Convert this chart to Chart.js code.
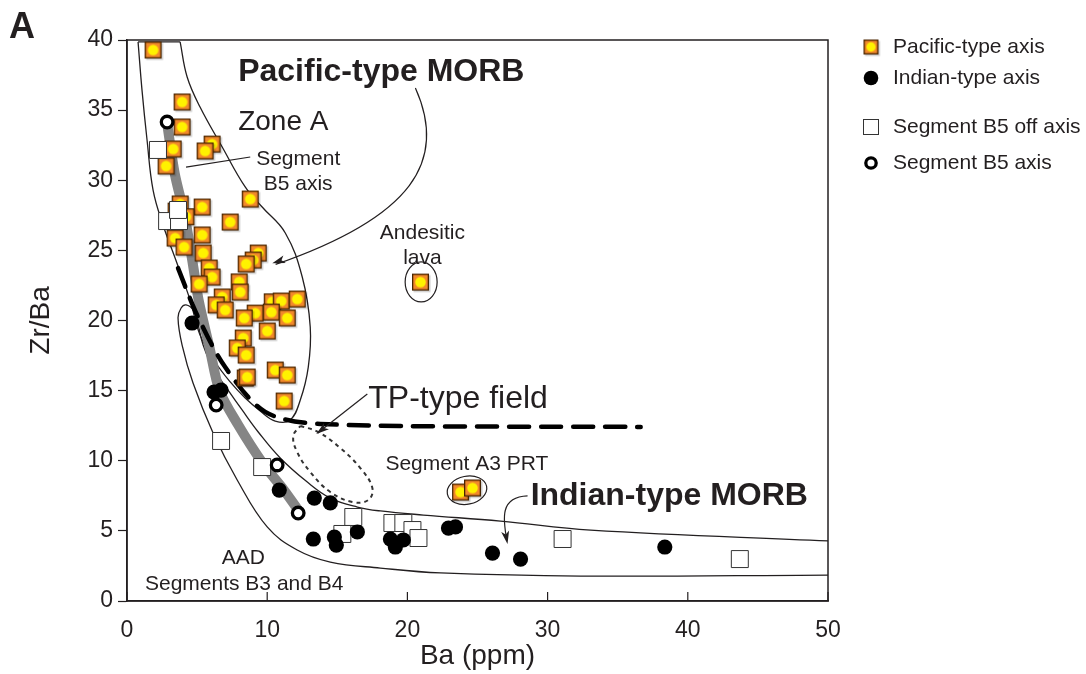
<!DOCTYPE html>
<html>
<head>
<meta charset="utf-8">
<title>Zr/Ba vs Ba</title>
<script src="https://cdn.jsdelivr.net/npm/chart.js@4.4.1/dist/chart.umd.min.js"></script>
<style>
  html, body { margin: 0; padding: 0; background: #fff; }
  #wrap { width: 1086px; height: 674px; position: relative; }
</style>
</head>
<body>
<div id="wrap"><canvas id="chart" width="1086" height="674"></canvas></div>
<script>
// samples: [Ba (ppm), Zr/Ba]
const pacificAxis = [
  [1.86, 39.29], [3.93, 35.58], [3.93, 33.80], [6.07, 32.58], [5.57, 32.09], [3.29, 32.23],
  [2.79, 31.02], [8.79, 28.66], [3.79, 28.31], [5.36, 28.09], [3.5, 27.8], [4.2, 27.4],
  [7.36, 27.02], [5.36, 26.10], [3.43, 25.88], [4.07, 25.24], [5.43, 24.81], [9.36, 24.81],
  [9.0, 24.31], [8.5, 24.03], [5.86, 23.74], [6.07, 23.10], [8.0, 22.75], [5.14, 22.60],
  [8.07, 22.03], [6.79, 21.68], [6.36, 21.11], [7.0, 20.75], [10.36, 21.33], [11.0, 21.39],
  [12.14, 21.53], [9.14, 20.53], [10.29, 20.60], [8.36, 20.18], [11.43, 20.18], [10.0, 19.25],
  [8.29, 18.75], [7.86, 18.04], [8.5, 17.54], [8.43, 15.90], [8.57, 15.97], [10.57, 16.47],
  [11.43, 16.11], [11.21, 14.26],
  [20.93, 22.74],               // andesitic lava
  [23.79, 7.77], [24.64, 8.06]  // segment A3 PRT
];
const indianAxis = [
  [4.64, 19.82], [6.21, 14.90], [6.71, 15.04], [10.86, 7.91], [13.36, 7.34], [14.5, 6.99],
  [13.29, 4.42], [14.79, 4.56], [14.93, 3.99], [16.43, 4.92], [18.79, 4.42], [19.14, 3.85],
  [19.71, 4.35], [22.93, 5.20], [23.43, 5.28], [26.07, 3.42], [28.07, 2.99], [38.36, 3.85]
];
const b5OffAxis = [
  [2.21, 32.16], [2.86, 27.09], [3.71, 27.09], [3.64, 27.88], [6.71, 11.41], [9.64, 9.55],
  [16.14, 5.99], [15.36, 4.78], [18.93, 5.56], [19.71, 5.56], [20.36, 5.06], [20.79, 4.49],
  [31.07, 4.42], [43.71, 2.99]
];
const b5Axis = [[2.86, 34.15], [6.36, 13.97], [10.71, 9.70], [12.21, 6.27]];

// trend of the segment B5 axis samples
const b5Trend = [
  [2.9, 33.8], [3.4, 30.5], [4.1, 27.5], [4.7, 24.0], [5.1, 21.5], [5.9, 18.0],
  [6.6, 15.0], [7.9, 12.6], [9.7, 9.8], [11.2, 7.9], [12.2, 6.5]
];
// field outlines (open ends meet the frame or a straight edge)
const zoneA = [
  [3.79, 39.86], [4.29, 37.36], [5.21, 35.22], [6.79, 32.37], [8.43, 29.52],
  [9.64, 28.09], [11.29, 26.24], [12.5, 23.10], [13.07, 19.54], [12.93, 16.68], [12.36, 14.33],
  [11.64, 12.91], [10.57, 12.83], [9.5, 13.55], [8.43, 14.47], [7.36, 15.62], [6.29, 17.04],
  [5.21, 18.97], [4.5, 21.46], [3.43, 24.46], [2.57, 26.81], [1.86, 29.30], [1.43, 32.87],
  [1.07, 36.43], [0.79, 39.86]
];
const zoneATop = [[0.79, 39.86], [3.79, 39.86]];
const indianField = [
  [50, 4.28], [33.07, 5.06], [26.64, 5.70], [21.14, 6.13], [18.07, 6.42], [16.43, 6.70],
  [14.5, 7.34], [12.86, 8.48], [10.93, 10.20], [9.36, 12.05], [8.21, 13.62], [7.21, 15.04],
  [6.14, 16.61], [5.43, 18.25], [5.07, 19.68], [4.71, 20.75], [4.21, 21.11], [3.86, 20.89],
  [3.64, 20.18], [3.93, 18.25], [4.71, 15.54], [6.14, 11.98], [7.86, 8.63], [10.0, 5.28],
  [12.14, 3.64], [14.5, 2.78], [18.07, 2.35], [22.36, 2.0], [32.36, 1.78], [50, 1.85]
];
const tpBoundary = [
  [3.64, 23.74], [5.0, 20.39], [7.0, 16.68], [9.86, 13.48], [13.79, 12.62], [36.64, 12.41]
];
const tpField = [
  [12.36, 12.48], [13.64, 12.05], [15.21, 10.91], [16.64, 9.48], [17.5, 8.06], [17.21, 7.2],
  [16.07, 7.06], [14.5, 7.77], [13.07, 9.2], [12.14, 10.62], [11.86, 11.76], [12.36, 12.48]
];

const xTicks = [0, 10, 20, 30, 40, 50];
const yTicks = [0, 5, 10, 15, 20, 25, 30, 35, 40];
const legendLabels = ['Pacific-type axis', 'Indian-type axis', 'Segment B5 off axis', 'Segment B5 axis'];

const FONT = "'Liberation Sans', Arial, Helvetica, sans-serif";
const INK = '#231f20';

const pts = arr => arr.map(([x, y]) => ({ x, y }));

// orange square with yellow dot
function pacificMarker(side) {
  const pad = 3;
  const c = document.createElement('canvas');
  c.width = c.height = side + pad * 2;
  const g = c.getContext('2d');
  g.fillStyle = 'rgba(0,0,0,0.2)';
  g.fillRect(pad + 1.5, pad + 1.5, side, side);
  g.fillStyle = '#f2892b';
  g.fillRect(pad, pad, side, side);
  g.strokeStyle = '#4a2500';
  g.lineWidth = 1.3;
  g.strokeRect(pad + 0.65, pad + 0.65, side - 1.3, side - 1.3);
  g.fillStyle = '#fff200';
  g.beginPath();
  g.arc(pad + side / 2, pad + side / 2, side * 0.31, 0, Math.PI * 2);
  g.fill();
  return c;
}
const pacificImg = pacificMarker(17);
const pacificLegendImg = pacificMarker(15);

function outline(data, extra) {
  return Object.assign({
    type: 'scatter', data: pts(data), showLine: true, pointRadius: 0,
    borderColor: INK, borderWidth: 1.3, tension: 0.4, fill: false
  }, extra);
}

const datasets = [
  outline(zoneA, { order: 20 }),
  outline(zoneATop, { order: 20, tension: 0 }),
  outline(indianField, { order: 21 }),
  outline(tpField, { order: 22, borderDash: [4, 4], borderWidth: 2, borderColor: '#333' }),
  outline(b5Trend, { order: 15, borderColor: '#858585', borderWidth: 10, tension: 0.3, borderCapStyle: 'butt' }),
  outline(tpBoundary, { order: 12, borderWidth: 4.5, borderDash: [20, 12], borderCapStyle: 'round', tension: 0.3, borderColor: '#000' }),
  { label: legendLabels[0], data: pts(pacificAxis), pointStyle: pacificImg, pointRadius: 8, order: 8 },
  { label: legendLabels[2], data: pts(b5OffAxis), pointStyle: 'rect', pointRadius: 12,
    backgroundColor: '#fff', borderColor: '#333', borderWidth: 1, order: 6 },
  { label: legendLabels[1], data: pts(indianAxis), pointStyle: 'circle', pointRadius: 7.6,
    backgroundColor: '#000', borderColor: '#000', borderWidth: 0, order: 4 },
  { label: legendLabels[3], data: pts(b5Axis), pointStyle: 'circle', pointRadius: 5.8,
    backgroundColor: '#fff', borderColor: '#000', borderWidth: 3.3, order: 2 }
];

function arrowHead(ctx, x, y, ang) {
  const len = 13, half = 4;
  ctx.save();
  ctx.translate(x, y);
  ctx.rotate(ang);
  ctx.beginPath();
  ctx.moveTo(0, 0);
  ctx.lineTo(-len, -half);
  ctx.lineTo(-len * 0.75, 0);
  ctx.lineTo(-len, half);
  ctx.closePath();
  ctx.fill();
  ctx.restore();
}

const overlay = {
  id: 'overlay',
  afterDraw(chart) {
    const { ctx, chartArea: a, scales: { x, y } } = chart;
    const X = v => x.getPixelForValue(v);
    const Y = v => y.getPixelForValue(v);
    ctx.save();
    ctx.strokeStyle = INK;
    ctx.fillStyle = INK;

    // frame and inward ticks on the Ba axis
    ctx.lineWidth = 1.5;
    ctx.strokeRect(a.left, a.top, a.right - a.left, a.bottom - a.top);
    ctx.lineWidth = 1.2;
    xTicks.forEach(v => {
      ctx.beginPath();
      ctx.moveTo(X(v), a.bottom);
      ctx.lineTo(X(v), a.bottom - 9);
      ctx.stroke();
    });

    // rings round the andesite and A3 PRT samples
    ctx.lineWidth = 1.2;
    ctx.beginPath();
    ctx.ellipse(X(20.98), Y(22.75), 16, 20, 0, 0, Math.PI * 2);
    ctx.stroke();
    ctx.beginPath();
    ctx.ellipse(X(24.25), Y(7.9), 20, 14, -0.2, 0, Math.PI * 2);
    ctx.stroke();

    // arrows
    ctx.lineWidth = 1.2;
    ctx.beginPath();
    ctx.moveTo(X(20.57), Y(36.58));
    ctx.bezierCurveTo(X(22.9), Y(31.4), X(20.4), Y(27.4), X(10.6), Y(24.0));
    ctx.stroke();
    arrowHead(ctx, X(10.36), Y(24.08), Math.atan2(Y(24.08) - Y(27.4), X(10.36) - X(20.4)));

    ctx.beginPath();
    ctx.moveTo(X(17.14), Y(14.76));
    ctx.lineTo(X(13.6), Y(11.98));
    ctx.stroke();
    arrowHead(ctx, X(13.5), Y(11.9), Math.atan2(Y(11.9) - Y(14.76), X(13.5) - X(17.14)));

    ctx.beginPath();
    ctx.moveTo(X(28.57), Y(7.49));
    ctx.bezierCurveTo(X(26.6), Y(7.42), X(26.8), Y(5.9), X(27.1), Y(4.3));
    ctx.stroke();
    arrowHead(ctx, X(27.14), Y(4.06), Math.atan2(Y(4.06) - Y(5.9), X(27.14) - X(26.8)));

    ctx.beginPath();
    ctx.moveTo(X(8.79), Y(31.66));
    ctx.lineTo(X(4.21), Y(30.94));
    ctx.stroke();

    // field labels
    const text = (s, vx, vy, size, align, bold) => {
      ctx.font = (bold ? 'bold ' : '') + size + 'px ' + FONT;
      ctx.textAlign = align;
      ctx.textBaseline = 'alphabetic';
      ctx.fillText(s, X(vx), Y(vy));
    };
    text('Pacific-type MORB', 7.93, 37.05, 32, 'left', true);
    text('Zone A', 7.93, 33.58, 28, 'left');
    text('Segment', 12.21, 31.09, 21, 'center');
    text('B5 axis', 12.21, 29.3, 21, 'center');
    text('Andesitic', 21.07, 25.81, 21, 'center');
    text('lava', 21.07, 24.03, 21, 'center');
    text('TP-type field', 17.21, 13.76, 32, 'left');
    text('Segment A3 PRT', 18.43, 9.34, 21, 'left');
    text('Indian-type MORB', 28.79, 6.84, 32, 'left', true);
    text('AAD', 8.29, 2.64, 21, 'center');
    text('Segments B3 and B4', 8.36, 0.78, 21, 'center');

    // panel letter
    ctx.font = 'bold 36px ' + FONT;
    ctx.textAlign = 'left';
    ctx.fillText('A', 9, 38);

    // legend
    const rows = [47, 78, 127, 163];
    const mx = 871;
    ctx.font = '21px ' + FONT;
    ctx.textBaseline = 'middle';
    ctx.textAlign = 'left';
    ctx.drawImage(pacificLegendImg, mx - pacificLegendImg.width / 2, rows[0] - pacificLegendImg.height / 2);
    ctx.beginPath();
    ctx.arc(mx, rows[1], 7.3, 0, Math.PI * 2);
    ctx.fillStyle = '#000';
    ctx.fill();
    ctx.fillStyle = '#fff';
    ctx.fillRect(mx - 7.5, rows[2] - 7.5, 15, 15);
    ctx.lineWidth = 1;
    ctx.strokeStyle = '#333';
    ctx.strokeRect(mx - 7.5, rows[2] - 7.5, 15, 15);
    ctx.beginPath();
    ctx.arc(mx, rows[3], 5.2, 0, Math.PI * 2);
    ctx.lineWidth = 3.3;
    ctx.strokeStyle = '#000';
    ctx.stroke();
    ctx.fillStyle = INK;
    legendLabels.forEach((s, i) => ctx.fillText(s, 893, rows[i]));
    ctx.restore();
  }
};

new Chart(document.getElementById('chart'), {
  type: 'scatter',
  data: { datasets },
  options: {
    responsive: false,
    animation: false,
    events: [],
    layout: { padding: { left: 20, top: 40, right: 258, bottom: 0 } },
    plugins: { legend: { display: false }, tooltip: { enabled: false } },
    scales: {
      x: {
        type: 'linear', min: 0, max: 50,
        afterBuildTicks: s => { s.ticks = xTicks.map(v => ({ value: v })); },
        afterFit: s => { s.height = 73; },
        grid: { drawOnChartArea: false, drawTicks: false },
        border: { color: INK, width: 1.5 },
        ticks: { color: INK, font: { family: FONT, size: 23 }, padding: 16, maxRotation: 0 },
        title: { display: true, text: 'Ba (ppm)', color: INK, font: { family: FONT, size: 28, lineHeight: 1.0 } }
      },
      y: {
        type: 'linear', min: 0, max: 40,
        afterBuildTicks: s => { s.ticks = yTicks.map(v => ({ value: v })); },
        afterFit: s => { s.width = 107; },
        grid: { drawOnChartArea: false, drawTicks: true, tickLength: 9, color: INK, tickWidth: 1.2 },
        border: { color: INK, width: 1.5 },
        ticks: { color: INK, font: { family: FONT, size: 23 }, padding: 5 },
        title: { display: true, text: 'Zr/Ba', color: INK, font: { family: FONT, size: 28 } }
      }
    }
  },
  plugins: [overlay]
});
</script>
</body>
</html>
